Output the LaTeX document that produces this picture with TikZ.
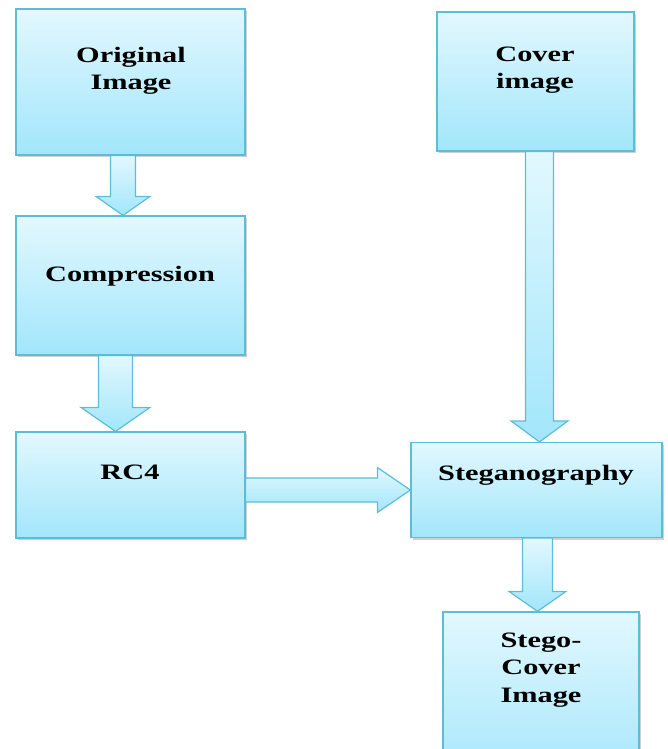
\documentclass[tikz,border=0pt]{standalone}
\usepackage{fontspec}
\setmainfont{Liberation Serif}[FakeStretch=1.38]
\usepackage{tikz}
\usetikzlibrary{calc, shadows}

\definecolor{boxtop}{HTML}{E2F8FE}
\definecolor{boxbot}{HTML}{A2E6FB}
\definecolor{bordc}{HTML}{5CBDD6}

\tikzset{
  box/.style={draw=bordc, line width=1.2pt, top color=boxtop, bottom color=boxbot,
    inner sep=0pt, drop shadow={shadow xshift=1.5pt, shadow yshift=-2pt, opacity=.3, fill=black!60}},
  txt/.style={font=\bfseries\fontsize{22}{27.5}\selectfont, align=center, inner sep=0pt},
  blk/.style={draw=bordc, line width=1.2pt, top color=boxtop, bottom color=boxbot, line join=miter}
}

% block arrow downwards: from, to, x offset, shaft half, head half, head length
\newcommand{\vblk}[6]{%
  \path[blk] let \p1=(#1.south), \p2=($(#2.north)+(#3,0)$) in
    (\x2-#4pt,\y1) -- (\x2-#4pt,\y2+#6pt) -- (\x2-#5pt,\y2+#6pt) -- (\x2,\y2)
    -- (\x2+#5pt,\y2+#6pt) -- (\x2+#4pt,\y2+#6pt) -- (\x2+#4pt,\y1) -- cycle;}
% block arrow to the right: from, to, y offset, shaft half, head half, head length
\newcommand{\hblk}[6]{%
  \path[blk] let \p1=(#1.east), \p2=($(#2.west)+(0,#3)$) in
    (\x1,\y2+#4pt) -- (\x2-#6pt,\y2+#4pt) -- (\x2-#6pt,\y2+#5pt) -- (\x2,\y2)
    -- (\x2-#6pt,\y2-#5pt) -- (\x2-#6pt,\y2-#4pt) -- (\x1,\y2-#4pt) -- cycle;}

\begin{document}
\begin{tikzpicture}[x=1pt, y=-1pt]
	\useasboundingbox (0,0) rectangle (668,749);
	% boxes
	\node[box, minimum width=229pt, minimum height=146pt] (orig) at (130.5,82) {};
	\node[box, minimum width=229pt, minimum height=139pt] (comp) at (130.5,285.5) {};
	\node[box, minimum width=229pt, minimum height=106pt] (rc4) at (130.5,485) {};
	\node[box, minimum width=197pt, minimum height=139pt] (cover) at (535.5,81.5) {};
	\node[box, minimum width=251pt, minimum height=95pt] (steg) at (536.5,490) {};
	\node[box, minimum width=196pt, minimum height=176pt] (stego) at (541,700) {};
	% arrows
	\vblk{orig}{comp}{-7.5}{12.5}{27}{19}
	\vblk{comp}{rc4}{-15}{17}{34.5}{24}
	\vblk{cover}{steg}{3}{14}{28.5}{21}
	\vblk{steg}{stego}{-3.5}{15}{28.5}{20}
	\hblk{rc4}{steg}{0}{12}{22.5}{33}
	% texts
	\node[txt] (orig-t) at (131,71) {Original\\Image};
	\node[txt, anchor=base] (comp-t) at (130,281) {Compression};
	\node[txt, anchor=base] (rc4-t) at (130,479) {RC4};
	\node[txt] (cover-t) at (535,70) {Cover\\image};
	\node[txt, anchor=base] (steg-t) at (536,480) {Steganography};
	\node[txt] (stego-t) at (541,670) {Stego-\\Cover\\Image};
\end{tikzpicture}
\end{document}
